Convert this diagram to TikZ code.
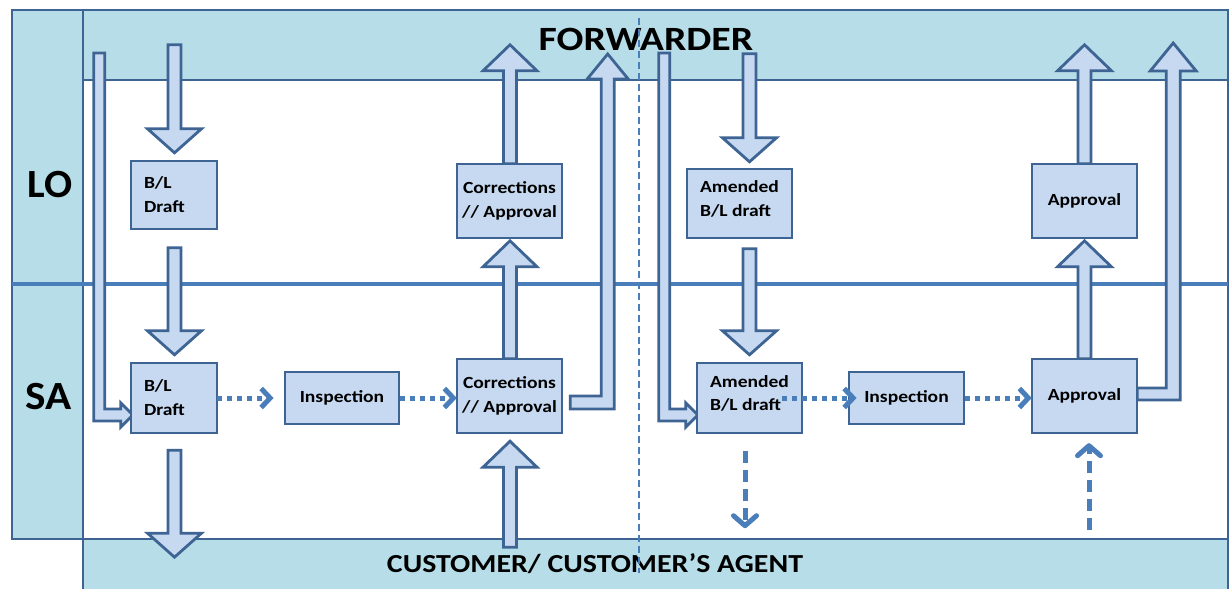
\documentclass[tikz,border=0pt]{standalone}
\usepackage{fontspec}
\usepackage{graphicx}
\setmainfont{Carlito}
\usetikzlibrary{arrows.meta,calc}
\definecolor{bandfill}{HTML}{B7DDE8}
\definecolor{boxfill}{HTML}{C6D9F1}
\definecolor{edge}{HTML}{3E6494}
\definecolor{midblue}{HTML}{4A7EBB}
\newcommand\sx[1]{\scalebox{1.15}[1]{#1}}
\newcommand\dnblk[2]{\begin{scope}[shift={(#1)}]\filldraw[blk] (-6.5,-#2) -- (6.5,-#2) -- (6.5,-24) -- (27,-24) -- (0,0) -- (-27,-24) -- (-6.5,-24) -- cycle;\end{scope}}
\newcommand\upblk[2]{\begin{scope}[shift={(#1)}]\filldraw[blk] (-6.5,#2) -- (6.5,#2) -- (6.5,26) -- (27,26) -- (0,0) -- (-27,26) -- (-6.5,26) -- cycle;\end{scope}}
\newcommand\inelbow[1]{\begin{scope}[shift={(#1)}]\filldraw[blk] (-39,-362) -- (-28,-362) -- (-28,-6) -- (-12,-6) -- (-12,-12) -- (0,0) -- (-12,12) -- (-12,6) -- (-39,6) -- cycle;\end{scope}}
\tikzset{
  blk/.style={fill=boxfill, draw=edge, line width=2.8pt, line join=miter},
  slot/.style={rectangle, inner sep=0pt},
  box/.style={fill=boxfill, draw=edge, line width=2.8pt, rectangle, inner sep=0pt, align=center,
    font=\fontsize{17}{24}\selectfont\bfseries},
  band/.style={fill=bandfill, draw=edge, line width=2.8pt},
  dotarr/.style={draw=midblue, line width=5pt, dash pattern=on 5pt off 5pt,
    -{Straight Barb[length=9pt,width=19pt]}},
  dasharr/.style={draw=midblue, line width=5pt, dash pattern=on 12pt off 7pt,
    -{Straight Barb[length=10pt,width=23pt,round]}},
  lanelab/.style={font=\fontsize{40}{44}\selectfont\bfseries, inner sep=0pt},
  bandlab/.style={inner sep=0pt},
}
\begin{document}
\begin{tikzpicture}[x=1pt,y=-1pt]
\clip (0,0) rectangle (1232,589);
% lanes
\fill[white] (0,0) rectangle (1232,589);
\filldraw[band] (83,10) rectangle (1228,80);
\filldraw[band] (83,539) rectangle (1228,600);
\draw[edge, line width=2.8pt] (83,10) rectangle (1228,600);
\filldraw[band] (12,10) rectangle (83,539);
\draw[midblue, line width=3.2pt] (12,284) -- (1228,284);

% box places (named, drawn later)
\path
  (174,195) node[slot, minimum width=86, minimum height=68] (lo1) {}
  (174,398) node[slot, minimum width=86, minimum height=70] (sa1) {}
  (509.5,201) node[slot, minimum width=105, minimum height=74] (colo) {}
  (509.5,396) node[slot, minimum width=105, minimum height=74] (cosa) {}
  (739.5,203.5) node[slot, minimum width=105, minimum height=69] (amlo) {}
  (749.5,398) node[slot, minimum width=105, minimum height=70] (amsa) {}
  (1084.5,201) node[slot, minimum width=105, minimum height=74] (aplo) {}
  (1084.5,396) node[slot, minimum width=105, minimum height=74] (apsa) {};

% block arrows
\dnblk{$(lo1.north)+(0.5,-8)$}{108}
\dnblk{$(sa1.north)+(0.5,-8)$}{107}
\dnblk{$(sa1.south)+(0.5,124)$}{107}
\upblk{$(colo.north)+(0.5,-119)$}{119}
\upblk{$(cosa.north)+(0.5,-118)$}{118}
\upblk{$(cosa.south)+(0.5,8)$}{106}
\dnblk{$(amlo.north)+(10,-7)$}{108}
\dnblk{$(amsa.north)+(0,-8)$}{106}
\upblk{$(aplo.north)+(0,-119)$}{119}
\upblk{$(apsa.north)+(0,-118)$}{118}
\inelbow{$(sa1.west)+(2,17)$}
\inelbow{$(amsa.west)+(1,17)$}
\begin{scope}[shift={(cosa.east)}]
\filldraw[blk] (8,0) -- (39,0) -- (39,-317) -- (25,-317) -- (45.5,-342) -- (66,-317) -- (52,-317) -- (52,13) -- (8,13) -- cycle;
\end{scope}
\begin{scope}[shift={(apsa.east)}]
\filldraw[blk] (0,-8) -- (29,-8) -- (29,-325) -- (13,-325) -- (36,-353) -- (59,-325) -- (43,-325) -- (43,4) -- (0,4) -- cycle;
\end{scope}

% boxes drawn on top of the arrows
\node[box, minimum width=86, minimum height=68, text width=60pt, align=left] (lo1b) at (lo1) {\sx{B/L}\\\sx{Draft}};
\node[box, minimum width=86, minimum height=70, text width=60pt, align=left] (sa1b) at (sa1) {\sx{B/L}\\\sx{Draft}};
\node[box, minimum width=114, minimum height=52] (insp1) at (342,398) {\sx{Inspection}};
\node[box, minimum width=105, minimum height=74] (colob) at (colo) {\sx{Corrections}\\\sx{// Approval}};
\node[box, minimum width=105, minimum height=74] (cosab) at (cosa) {\sx{Corrections}\\\sx{// Approval}};
\node[box, minimum width=105, minimum height=69] (amlob) at (amlo) {};
\node[inner sep=0pt, align=left, font=\fontsize{17}{24}\selectfont\bfseries] (amlot) at ($(amlo)+(0,-4.5)$) {\sx{Amended}\\\sx{B/L draft}};
\node[box, minimum width=105, minimum height=70] (amsab) at (amsa) {};
\node[inner sep=0pt, align=left, font=\fontsize{17}{23}\selectfont\bfseries] (amsat) at ($(amsa)+(0,-5)$) {\sx{Amended}\\\sx{B/L draft}};
\node[box, minimum width=115, minimum height=52] (insp2) at (906.5,398) {\sx{Inspection}};
\node[box, minimum width=105, minimum height=74] (aplob) at (aplo) {\sx{Approval}};
\node[box, minimum width=105, minimum height=74] (apsab) at (apsa) {\sx{Approval}};

% dotted / dashed arrows
\draw[dotarr] (sa1.east) -- ($(insp1.west)+(-10,0)$);
\draw[dotarr] (insp1.east) -- (insp1.east -| cosa.west);
\draw[dotarr] ($(amsa.east)+(-20,0)$) -- ($(insp2.west)+(9,0)$);
\draw[dotarr] (insp2.east) -- (insp2.east -| apsa.west);
\draw[dasharr] ($(amsa.south)+(-4.5,18)$) -- ($(amsa.south)+(-4.5,95)$);
\draw[dasharr] ($(apsa.south)+(4.5,97)$) -- ($(apsa.south)+(4.5,10)$);

% labels
\node[lanelab] (lo) at (50,185) {\scalebox{1.04}[1]{LO}};
\node[lanelab] (sa) at (49,397) {\scalebox{1.08}[1]{SA}};
\node[bandlab, font=\fontsize{34}{36}\selectfont\bfseries] (fwd) at (646,39) {\scalebox{1.17}[1]{FORWARDER}};
\node[bandlab, font=\fontsize{26}{30}\selectfont\bfseries] (cust) at (595,564) {\sx{CUSTOMER/ CUSTOMER’S AGENT}};

% divider
\draw[midblue, line width=2.6pt, dash pattern=on 7pt off 4pt] (639,18) -- (639,573);
\end{tikzpicture}
\end{document}
